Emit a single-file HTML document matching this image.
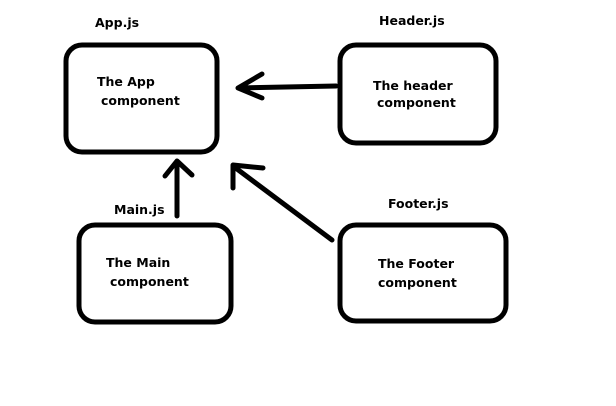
<!DOCTYPE html>
<html><head><style>body{margin:0;background:#fff}svg{display:block}</style></head><body>
<svg width="616" height="406" xmlns="http://www.w3.org/2000/svg">
<g fill="none" stroke="#000" stroke-width="5" stroke-linecap="round" stroke-linejoin="round">
<rect x="66" y="45" width="151" height="107" rx="16"/>
<rect x="340" y="45" width="156" height="98" rx="16"/>
<rect x="79" y="225" width="152" height="97" rx="16"/>
<rect x="340" y="225" width="166" height="96" rx="16"/>
<path d="M336 86 L238 88 M262 74 L238 88 L262 98"/>
<path d="M177 216 L177 161 M165 176 L177 161 L192 175"/>
<path d="M332 240 L233 166 M263 168 L233 165 L233 188"/>
</g>
<g font-family="'DejaVu Sans','Liberation Sans',sans-serif" font-weight="bold" font-size="12.5" fill="#000">
<text x="95" y="27">App.js</text>
<text x="97" y="86">The App</text>
<text x="101" y="105">component</text>
<text x="379" y="25">Header.js</text>
<text x="373" y="90">The header</text>
<text x="377" y="107">component</text>
<text x="114" y="214">Main.js</text>
<text x="106" y="267">The Main</text>
<text x="110" y="286">component</text>
<text x="388" y="208">Footer.js</text>
<text x="378" y="268">The Footer</text>
<text x="378" y="287">component</text>
</g>
</svg>
</body></html>
